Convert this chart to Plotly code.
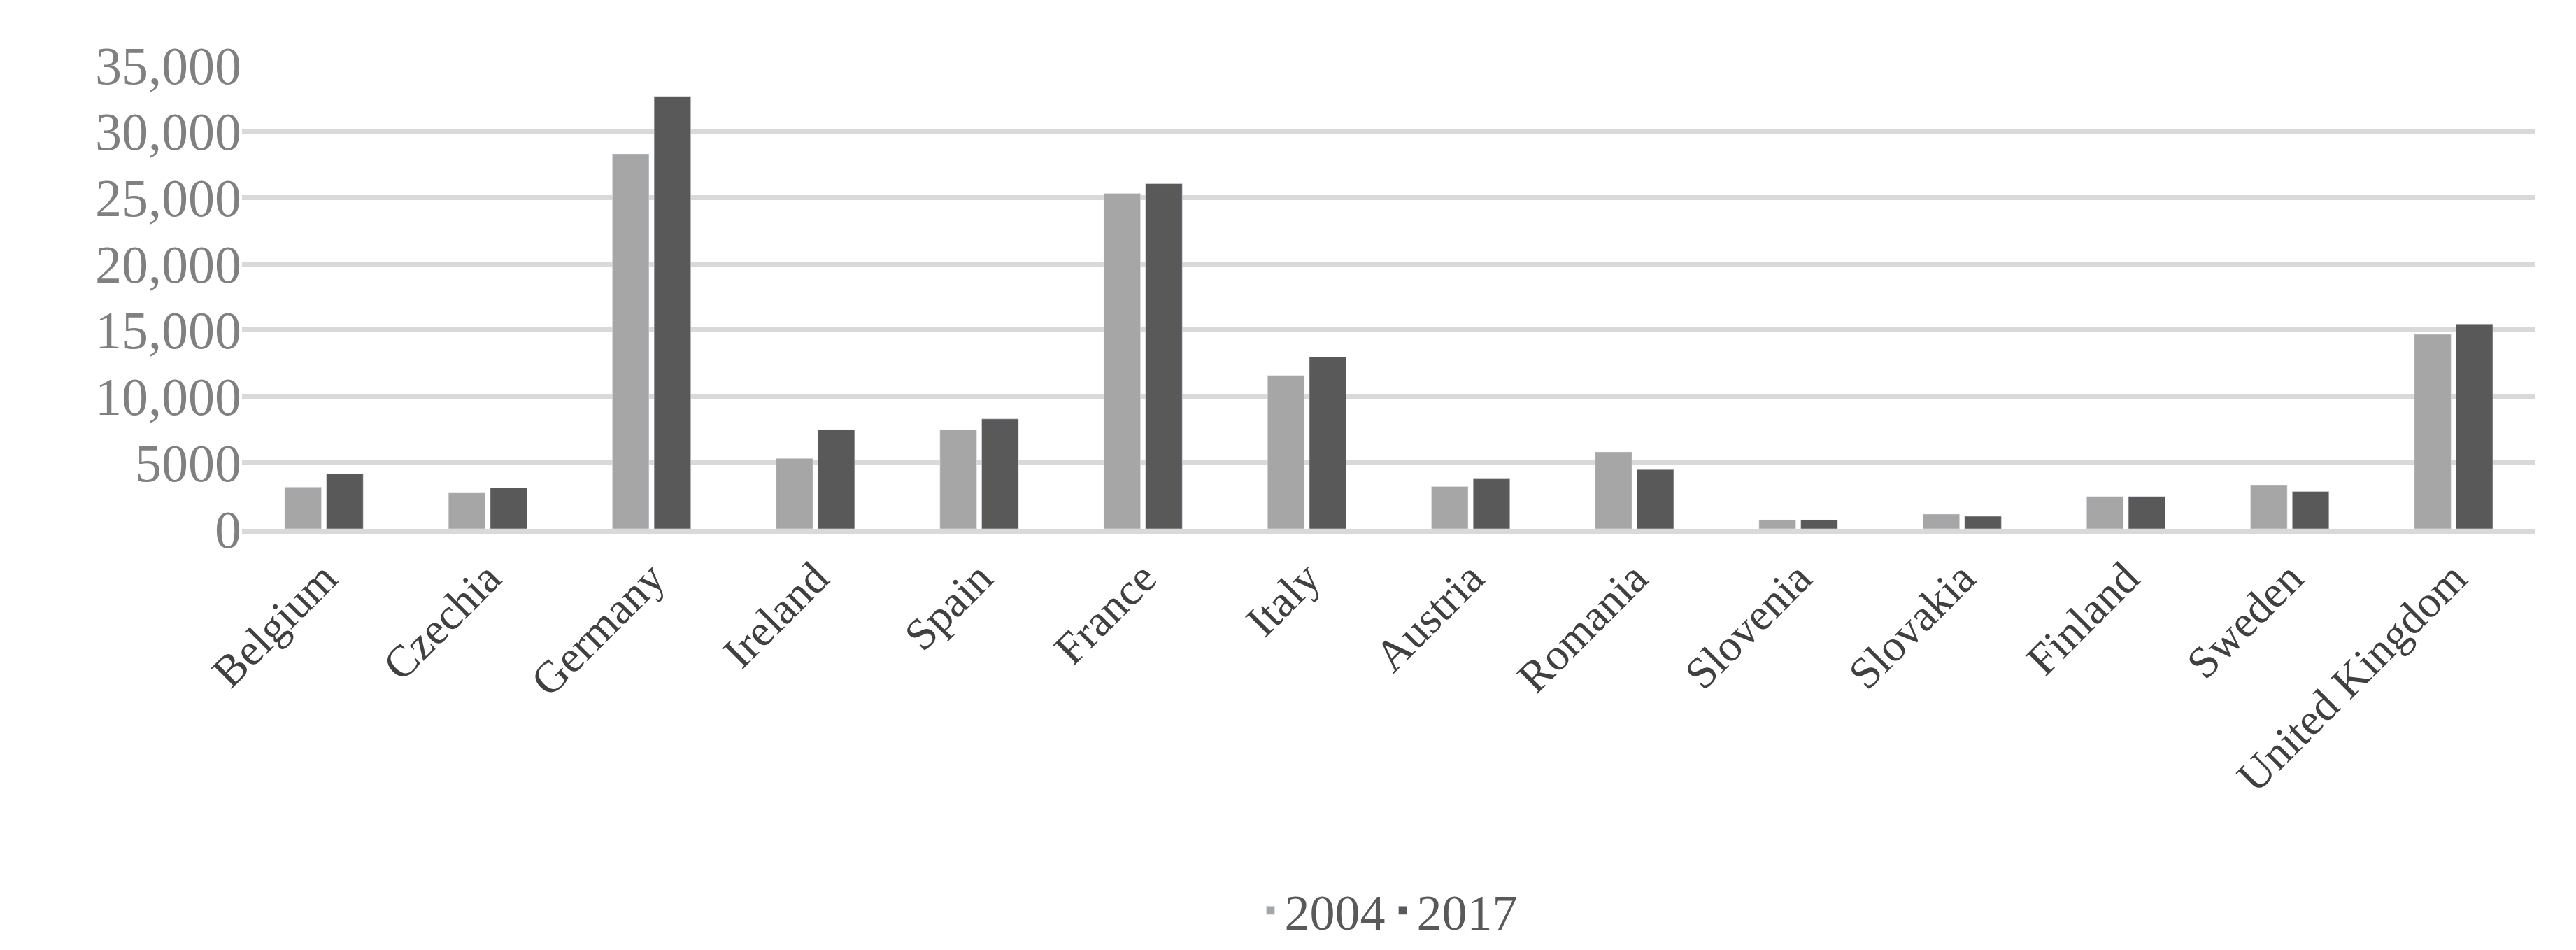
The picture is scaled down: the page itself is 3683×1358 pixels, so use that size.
import plotly.graph_objects as go

countries = ["Belgium", "Czechia", "Germany", "Ireland", "Spain", "France", "Italy",
             "Austria", "Romania", "Slovenia", "Slovakia", "Finland", "Sweden", "United Kingdom"]
v2004 = [3150, 2710, 28300, 5320, 7490, 25310, 11580, 3200, 5810, 680, 1110, 2440, 3280, 14680]
v2017 = [4150, 3090, 32640, 7490, 8300, 26050, 12970, 3770, 4480, 680, 950, 2440, 2820, 15460]
yticks = [0, 5000, 10000, 15000, 20000, 25000, 30000, 35000]
ytext = ["0", "5000", "10,000", "15,000", "20,000", "25,000", "30,000", "35,000"]

font = "Liberation Serif"
fig = go.Figure()
fig.add_bar(x=countries, y=v2004, name="2004", marker_color="#a6a6a6")
fig.add_bar(x=countries, y=v2017, name="2017", marker_color="#595959")
fig.update_layout(
    width=3683, height=1358, plot_bgcolor="white", paper_bgcolor="white",
    margin=dict(l=338, r=66, t=85, b=609),
    barmode="group", bargap=0.49, bargroupgap=0.12,
    font=dict(family=font, color="#595959"),
    legend=dict(orientation="h", x=0.5, xanchor="center", y=-0.82, yanchor="middle",
                font=dict(size=72, color="#595959")),
)
fig.update_yaxes(range=[0, 35000], tickvals=yticks, ticktext=ytext, showgrid=True,
                 gridcolor="#d9d9d9", gridwidth=7, zeroline=False,
                 tickfont=dict(size=76, color="#808080"), ticks="", ticklen=0)
fig.update_xaxes(tickangle=-45, tickfont=dict(size=64, color="#404040"),
                 showline=True, linecolor="#d9d9d9", linewidth=7)
fig.write_html("out.html")
